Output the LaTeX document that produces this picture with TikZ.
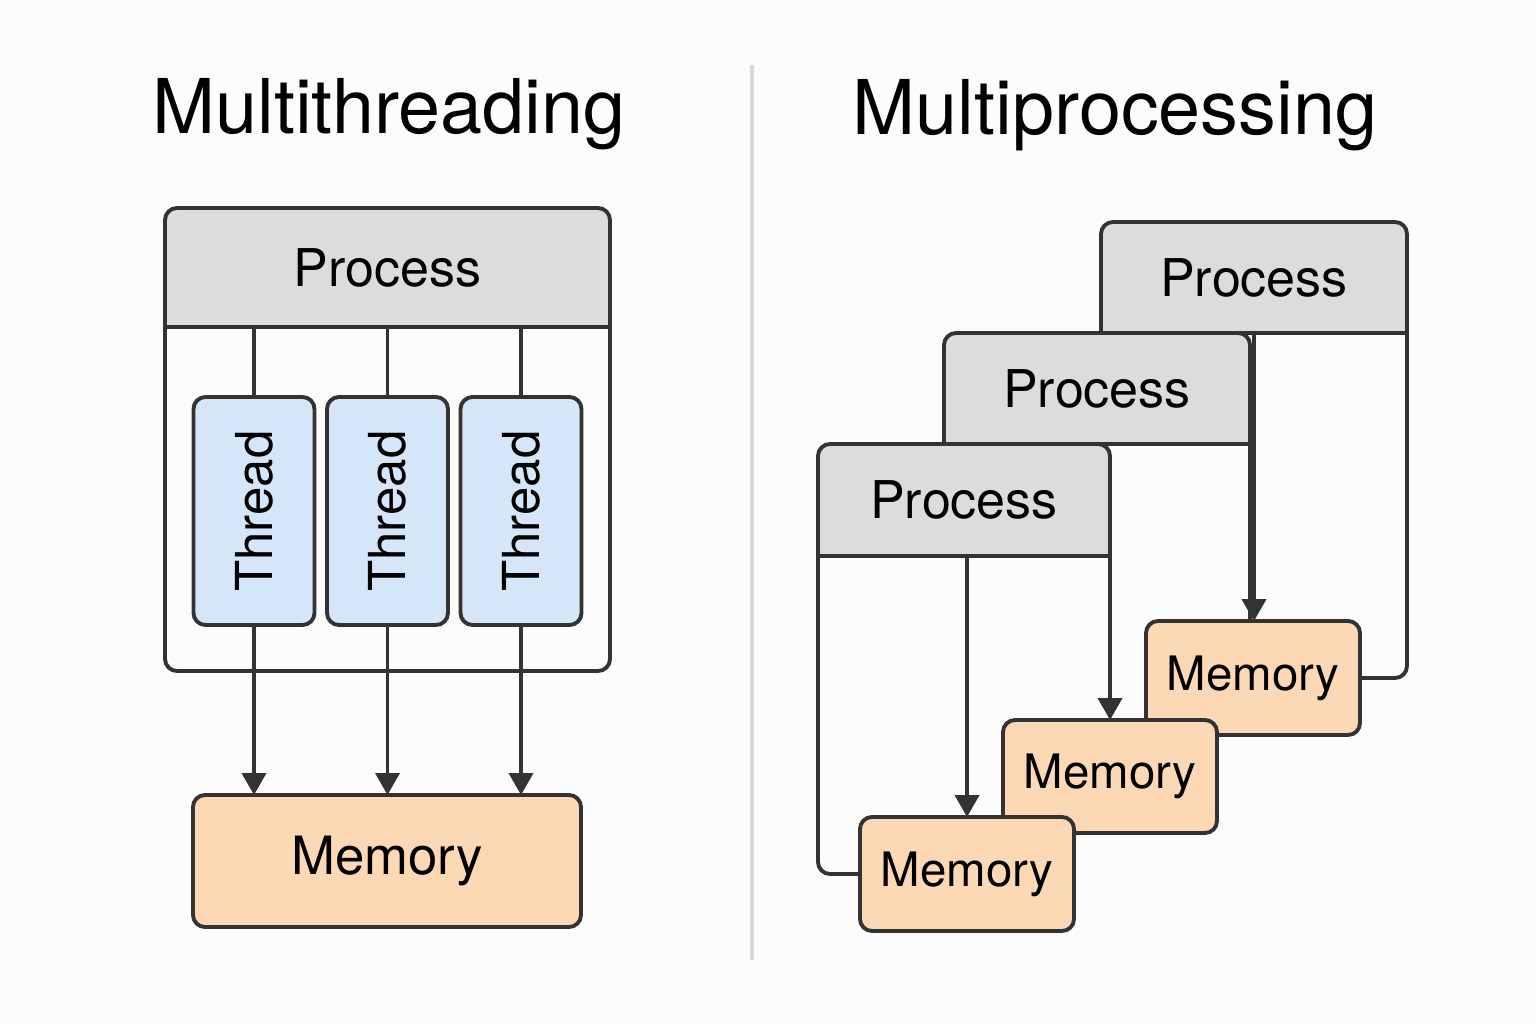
\documentclass[tikz,border=0pt]{standalone}
\usepackage{fontspec}
\setmainfont{TeX Gyre Heros}
\usepackage{graphicx}
\usetikzlibrary{arrows.meta,backgrounds}

\begin{document}
\begin{tikzpicture}[
    line width=1.1pt,
    every node/.style={outer sep=0pt},
    procframe/.style={draw=darkline, rounded corners=0.12cm},
    headbox/.style={inner sep=0pt, font=\fontsize{14.8}{16}\selectfont},
    threadbox/.style={draw=darkline, fill=threadblue, rounded corners=0.12cm,
        minimum width=1.21cm, minimum height=2.28cm, inner sep=0pt,
        font=\fontsize{14.5}{16}\selectfont},
    membox/.style={draw=darkline, fill=mempeach, rounded corners=0.12cm,
        inner sep=0pt},
    flowarrow/.style={draw=darkline, -{Triangle[width=0.24cm,length=0.22cm]}},
    titletext/.style={font=\fontsize{21.5}{24}\selectfont, anchor=base}
  ]
    \definecolor{darkline}{HTML}{333333}
    \definecolor{headgray}{HTML}{DCDCDC}
    \definecolor{threadblue}{HTML}{D5E6F8}
    \definecolor{mempeach}{HTML}{FDD8B4}
    \definecolor{dividergray}{HTML}{DADADA}
    \definecolor{pagewhite}{HTML}{FCFCFC}

    \useasboundingbox (0,0) rectangle (15.36,10.24);
    \begin{scope}[on background layer]
    \fill[pagewhite] (0,0) rectangle (15.36,10.24);
    \end{scope}

    % divider between the two halves
    \draw[dividergray, line width=1.2pt] (7.52,9.59) -- (7.52,0.64);

    % titles
    \node[titletext] (mttitle) at (3.89,8.90) {Multithreading};
    \node[titletext] (mptitle) at (11.15,8.89) {Multiprocessing};

    % Multithreading
    % (one process frame, three threads, one shared memory)
    \node[procframe, minimum width=4.45cm, minimum height=4.63cm]
         (mtproc) at (3.875,5.845) {};
    \node[headbox, minimum width=4.45cm, minimum height=1.19cm, anchor=north]
         (mthead) at (mtproc.north) {Process};
    \draw[darkline] (mthead.south west) -- (mthead.south east);

    \node[threadbox] (thread1) at (2.54,5.13)  {\rotatebox{90}{Thread}};
    \node[threadbox] (thread2) at (3.875,5.13) {\rotatebox{90}{Thread}};
    \node[threadbox] (thread3) at (5.21,5.13)  {\rotatebox{90}{Thread}};

    \node[membox, minimum width=3.88cm, minimum height=1.32cm,
          font=\fontsize{15}{17}\selectfont] (mtmem) at (3.87,1.63) {Memory};

    \draw[darkline] (thread1.north |- mthead.south) -- (thread1.north);
    \draw[darkline] (thread2.north |- mthead.south) -- (thread2.north);
    \draw[darkline] (thread3.north |- mthead.south) -- (thread3.north);

    \draw[flowarrow] (thread1.south) -- (thread1.south |- mtmem.north);
    \draw[flowarrow] (thread2.south) -- (thread2.south |- mtmem.north);
    \draw[flowarrow] (thread3.south) -- (thread3.south |- mtmem.north);

    % Multiprocessing
    % (headers stacked back to front, each with its own memory)
    \node[headbox, minimum width=3.06cm, minimum height=1.11cm]
         (p3head) at (12.54,7.465) {Process};
    \node[headbox, minimum width=3.06cm, minimum height=1.11cm]
         (p2head) at (10.97,6.355) {Process};
    \node[headbox, minimum width=2.92cm, minimum height=1.12cm]
         (p1head) at (9.64,5.24) {Process};

    \node[membox, minimum width=2.14cm, minimum height=1.14cm,
          font=\fontsize{13.5}{15}\selectfont] (mem3) at (12.53,3.46) {Memory};
    \node[membox, minimum width=2.14cm, minimum height=1.13cm,
          font=\fontsize{13.5}{15}\selectfont] (mem2) at (11.10,2.475) {Memory};
    \node[membox, minimum width=2.14cm, minimum height=1.14cm,
          font=\fontsize{13.5}{15}\selectfont] (mem1) at (9.67,1.50) {Memory};

    % process frames
    \draw[procframe] (p3head.south west) -- (p3head.north west)
          -- (p3head.north east) |- (mem3.east);
    \draw[darkline] (p3head.south west) -- (p3head.south east);
    \draw[procframe] (p2head.south west) -- (p2head.north west)
          -- (p2head.north east) -- (p2head.south east |- mem3.north);
    \draw[darkline] (p2head.south west) -- (p2head.south east);
    \draw[procframe] (mem1.west) -| (p1head.north west)
          -- (p1head.north east) -- (p1head.south east);
    \draw[darkline] (p1head.south west) -- (p1head.south east);

    \draw[flowarrow] (p3head.south) -- (p3head.south |- mem3.north);
    \draw[flowarrow] (p1head.south east) -- (mem2.north);
    \draw[flowarrow] (p1head.south -| mem1.north) -- (mem1.north);

    % gray header fills
    \begin{scope}[on background layer]
    \fill[headgray, rounded corners=0.12cm] (mthead.north west) rectangle (mthead.south east);
    \fill[headgray] (mthead.west) rectangle (mthead.south east);
    \fill[headgray, rounded corners=0.12cm] (p3head.north west) rectangle (p3head.south east);
    \fill[headgray] (p3head.west) rectangle (p3head.south east);
    \fill[headgray, rounded corners=0.12cm] (p2head.north west) rectangle (p2head.south east);
    \fill[headgray] (p2head.west) rectangle (p2head.south east);
    \fill[headgray, rounded corners=0.12cm] (p1head.north west) rectangle (p1head.south east);
    \fill[headgray] (p1head.west) rectangle (p1head.south east);
    \end{scope}
\end{tikzpicture}
\end{document}
